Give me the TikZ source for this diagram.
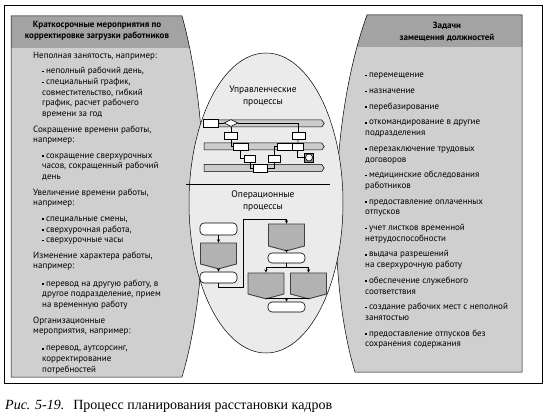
\documentclass[tikz,border=0pt]{standalone}
\usepackage{fontspec}
\setmainfont{Liberation Serif}
\newfontfamily\panelfont{PT Sans}
\usepackage{tikz}
\usetikzlibrary{arrows,positioning,shapes.geometric,shapes.symbols}

\newcommand\bul{\raisebox{0.3ex}{\rule{1.5pt}{1.5pt}}\hspace{2.4pt}}

\begin{document}
\begin{tikzpicture}[
    x=1pt, y=-1pt,
    >=stealth,
    every node/.style={font=\panelfont\fontsize{9}{10.7}\selectfont},
    frame/.style={draw, line width=0.7pt},
    panel/.style={fill=black!19},
    header/.style={fill=black!36},
    rim/.style={draw, line width=0.5pt},
    plate/.style={draw, line width=0.5pt, fill=black!8},
    headtext/.style={font=\panelfont\bfseries\fontsize{9}{11.5}\selectfont, align=center},
    listtext/.style={anchor=north west, align=left, inner sep=0pt},
    lane/.style={
        signal, signal to=east, signal pointer angle=110,
        draw, line width=0.5pt, fill=black!20,
        minimum width=120pt, minimum height=7pt, inner sep=0pt
    },
    mbox/.style={
        rectangle, draw, fill=white, line width=0.6pt,
        minimum width=13pt, minimum height=7pt, inner sep=0pt,
        path picture={\fill (path picture bounding box.south west)
            rectangle ([xshift=1.6pt]path picture bounding box.north west);}
    },
    term/.style={
        rectangle, rounded corners=4pt, draw, fill=white, line width=0.6pt,
        minimum width=37pt, minimum height=11pt, inner sep=0pt
    },
    offpage/.style={
        signal, signal to=south, signal pointer angle=150,
        draw=black!75, line width=0.9pt, fill=black!30,
        minimum width=36pt, minimum height=21pt, inner sep=0pt
    },
    wire/.style={line width=0.6pt},
    link/.style={->, line width=0.5pt}
]
\useasboundingbox (0,0) rectangle (547,417);

% --- Outer frame ---
\draw[frame] (4,5) rectangle (542,383);

% --- Left panel ---
\begin{scope}
\clip (11,16) -- (182,16) .. controls (211,120) and (211,280) .. (182,377) -- (11,377) -- cycle;
\fill[panel] (0,0) rectangle (260,390);
\fill[header] (0,0) rectangle (260,48);
\end{scope}
\draw[rim] (11,16) -- (182,16) .. controls (211,120) and (211,280) .. (182,377) -- (11,377) -- cycle;

% --- Right panel ---
\begin{scope}
\clip (367,15) -- (522,15) -- (522,372) -- (355,372) .. controls (327,280) and (329,120) .. (367,15) -- cycle;
\fill[panel] (300,0) rectangle (547,390);
\fill[header] (300,0) rectangle (547,47);
\end{scope}
\draw[rim] (367,15) -- (522,15) -- (522,372) -- (355,372) .. controls (327,280) and (329,120) .. (367,15) -- cycle;

% --- Central ellipse ---
\draw[plate] (266,203) ellipse [x radius=77, y radius=150];
\draw[line width=0.6pt] (186,184) -- (330,184);

% --- Headers ---
\node[headtext] (lhead) at (97,31) {Краткосрочные мероприятия по\\корректировке загрузки работников};
\node[headtext] (rhead) at (447,32) {Задачи\\замещения должностей};

% --- Left list ---
\node[listtext] (ltext) at (33,52) {
Неполная занятость, например:\\[4.5pt]
\hspace*{9pt}\bul неполный рабочий день,\\
\hspace*{9pt}\bul специальный график,\\
\hspace*{9pt}совместительство, гибкий\\
\hspace*{9pt}график, расчет рабочего\\
\hspace*{9pt}времени за год\\[4.8pt]
Сокращение времени работы,\\
например:\\[4.8pt]
\hspace*{9pt}\bul сокращение сверхурочных\\
\hspace*{9pt}часов, сокращенный рабочий\\
\hspace*{9pt}день\\[4.8pt]
Увеличение времени работы,\\
например:\\[4.8pt]
\hspace*{9pt}\bul специальные смены,\\
\hspace*{9pt}\bul сверхурочная работа,\\
\hspace*{9pt}\bul сверхурочные часы\\[4.8pt]
Изменение характера работы,\\
например:\\[6.5pt]
\hspace*{9pt}\bul перевод на другую работу, в\\
\hspace*{9pt}другое подразделение, прием\\
\hspace*{9pt}на временную работу\\[4.8pt]
Организационные\\
мероприятия, например:\\[6.5pt]
\hspace*{9pt}\bul перевод, аутсорсинг,\\
\hspace*{9pt}корректирование\\
\hspace*{9pt}потребностей};

% --- Right list ---
\node[listtext] (rtext) at (365,73) {
\bul перемещение\\[5pt]
\bul назначение\\[5pt]
\bul перебазирование\\[5pt]
\bul откомандирование в другие\\
подразделения\\[5pt]
\bul перезаключение трудовых\\
договоров\\[5pt]
\bul медицинские обследования\\
работников\\[5pt]
\bul предоставление оплаченных\\
отпусков\\[5pt]
\bul учет листков временной\\
нетрудоспособности\\[5pt]
\bul выдача разрешений\\
на сверхурочную работу\\[5pt]
\bul обеспечение служебного\\
соответствия\\[5pt]
\bul создание рабочих мест с неполной\\
занятостью\\[5pt]
\bul предоставление отпусков без\\
сохранения содержания};

% --- Ellipse titles ---
\node[align=center, font=\panelfont\fontsize{9.5}{11.5}\selectfont] (mtitle) at (263,96) {Управленческие\\процессы};
\node[align=center, font=\panelfont\fontsize{9.5}{11.5}\selectfont] (otitle) at (263,201) {Операционные\\процессы};

% --- Management lanes ---
\node[lane] (lane1) at (263,123.5) {};
\node[lane] (lane2) at (263,146.5) {};
\node[lane] (lane3) at (263,168) {};

\node[mbox, minimum width=15pt, minimum height=8pt] (s1) at (210.5,123) {};
\node[diamond, aspect=2, draw, fill=white, line width=0.6pt, minimum width=14pt, minimum height=7pt, inner sep=0pt] (d1) at (231,123) {};
\node[mbox] (b1) at (231,135.5) {};
\node[mbox, minimum width=15pt] (b2) at (240.5,146.5) {};
\node[mbox, minimum width=11pt] (b3) at (250,158.5) {};
\node[mbox, minimum width=14pt, minimum height=8pt] (b4) at (260,168) {};
\node[mbox, minimum width=12pt] (b5) at (274,158.5) {};
\node[mbox, minimum width=15pt] (b6) at (284.5,146.5) {};
\node[mbox, minimum width=11pt] (b7) at (297.5,146.5) {};
\node[mbox] (b8) at (298.5,135.5) {};
\node[draw, fill=black!45, minimum size=9pt, inner sep=0pt] (clkbg) at (309,157.5) {};
\node[circle, draw, fill=white, line width=0.6pt, minimum size=7pt, inner sep=0pt] (clk) at (309,157.5) {};

\draw[wire] (s1) -- (d1);
\draw[wire] (d1.east) -| (b8.north);
\draw[wire] (d1) -- (b1);
\draw[wire] (b1.south) |- (b2.west);
\draw[wire] (b2.south) |- (b3.west);
\draw[wire] (b3.south) |- (b4.west);
\draw[wire] (b4.east) -| (b5.south);
\draw[wire] (b5.north) |- (b6.west);
\draw[wire] (b8) -- (b7);
\draw[wire] (b7.south) |- (clk.west);

% --- Operational flow ---
\node[term, minimum height=12pt] (t1) at (218.5,229) {};
\node[offpage] (p1) at (218.5,253.5) {};
\node[term] (t2) at (218.5,277.5) {};
\node[offpage, minimum height=22pt] (p2) at (286.5,235) {};
\node[term, minimum height=10pt] (t3) at (286.5,258) {};
\node[offpage] (p3) at (266,283.5) {};
\node[offpage] (p4) at (308.5,283.5) {};
\node[term, minimum height=10pt] (t4) at (286.5,307) {};

\coordinate (turnA) at (243,287);
\coordinate (turnB) at (243,219);
\coordinate (split) at (286.5,267.5);
\coordinate (join) at (286.5,298.5);

\draw[link] (t1) -- (p1);
\draw[link] (p1) -- (t2);
\draw[link] (t2.south) |- (turnA) -- (turnB) -| (p2.north);
\draw[link] (p2) -- (t3);
\draw[wire] (t3.south) -- (split);
\draw[link] (split) -| (p3.north);
\draw[link] (split) -| (p4.north);
\draw[wire] (p3.south) |- (join) -| (p4.south);
\draw[link] (join) -- (t4);

% --- Caption ---
\node[anchor=base west, inner sep=0pt, font=\rmfamily\fontsize{14}{16}\selectfont] (cap) at (5,409)
    {\textit{Рис. 5-19.}\hspace{9pt}Процесс планирования расстановки кадров};

\end{tikzpicture}
\end{document}
